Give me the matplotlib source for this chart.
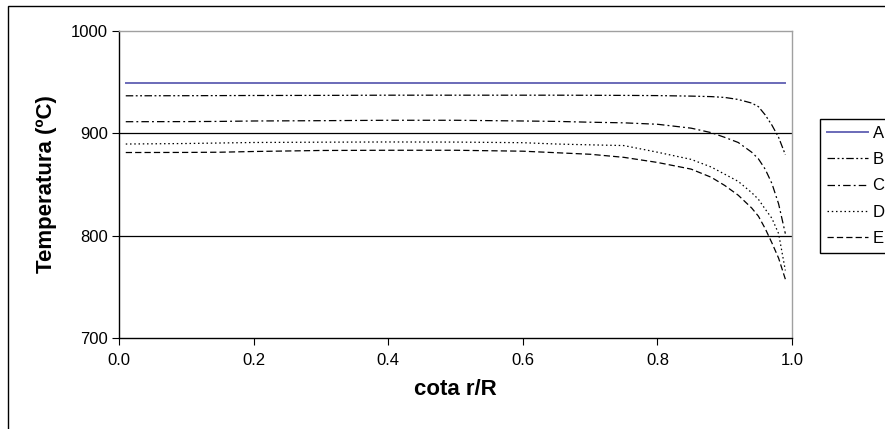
import matplotlib
matplotlib.use("Agg")
import matplotlib.pyplot as plt
from matplotlib.patches import Rectangle

# cota r/R
x = [0.01, 0.1, 0.15, 0.2, 0.3, 0.4, 0.5, 0.6, 0.65, 0.7, 0.75, 0.8, 0.85,
     0.88, 0.9, 0.92, 0.94, 0.95, 0.96, 0.97, 0.98, 0.99]

# temperatures (ºC)
serieA = [949.5] * len(x)
serieB = [936.6, 936.7, 936.8, 936.9, 937.0, 937.2, 937.2, 937.2, 937.2, 937.1, 937.0,
          936.8, 936.3, 935.8, 935.0, 933.0, 929.5, 926.0, 918.0, 908.0, 896.0, 879.0]
serieC = [911.3, 911.4, 911.6, 912.0, 912.3, 912.7, 912.7, 912.0, 911.6, 910.8, 910.2,
          908.8, 905.0, 900.6, 896.0, 891.0, 881.5, 875.0, 865.0, 851.0, 831.0, 802.0]
serieD = [889.5, 890.0, 890.5, 891.0, 891.3, 891.5, 891.4, 890.8, 889.5, 888.7, 888.0,
          881.5, 874.5, 867.0, 860.0, 853.0, 842.0, 835.5, 826.0, 817.0, 802.0, 766.0]
serieE = [881.2, 881.3, 881.5, 882.2, 883.2, 883.4, 883.4, 882.5, 881.0, 879.5, 876.5,
          871.5, 865.0, 857.0, 849.0, 839.5, 827.0, 819.0, 807.0, 793.0, 778.0, 757.5]

nombres = ["A", "B", "C", "D", "E"]

plt.rcParams['font.family'] = ['Liberation Sans', 'DejaVu Sans']

fig = plt.figure(figsize=(8.85, 4.29), dpi=100)
ax = fig.add_axes([0.1345, 0.212, 0.7605, 0.716])

# gridlines
for g in [800, 900]:
    ax.axhline(g, color="black", lw=0.9, zorder=1)

ax.plot(x, serieA, color="#6a6ab8", lw=1.4, label=nombres[0], zorder=3)
ax.plot(x, serieB, color="black", lw=0.9, dashes=[6, 2, 1.5, 2, 1.5, 2], label=nombres[1], zorder=3)
ax.plot(x, serieC, color="black", lw=0.9, dashes=[6, 2.5, 1.5, 2.5], label=nombres[2], zorder=3)
ax.plot(x, serieD, color="black", lw=0.9, dashes=[1.2, 2.2], label=nombres[3], zorder=3)
ax.plot(x, serieE, color="black", lw=0.9, dashes=[5, 2.5], label=nombres[4], zorder=3)

ax.set_xlim(0, 1.0)
ax.set_ylim(700, 1000)
ax.set_xticks([0.0, 0.2, 0.4, 0.6, 0.8, 1.0])
ax.set_xticklabels(["0.0", "0.2", "0.4", "0.6", "0.8", "1.0"])
ax.set_yticks([700, 800, 900, 1000])
ax.tick_params(axis="both", direction="out", length=5, width=0.8, labelsize=12, pad=3)
ax.tick_params(axis="x", pad=6)

ax.spines["left"].set_color("black")
ax.spines["bottom"].set_color("black")
ax.spines["top"].set_color("#a0a0a0")
ax.spines["right"].set_color("#a0a0a0")
for s in ax.spines.values():
    s.set_linewidth(1.0)

ax.set_xlabel("cota r/R", fontsize=16, fontweight="bold", labelpad=8)
ax.set_ylabel("Temperatura (ºC)", fontsize=16, fontweight="bold", labelpad=10)

leg = fig.legend(loc="upper left", bbox_to_anchor=(0.9266, 0.7226), fontsize=12,
                 handlelength=2.5, handletextpad=0.25, labelspacing=0.68,
                 borderpad=0.4, fancybox=False, framealpha=1, borderaxespad=0)
leg.get_frame().set_edgecolor("black")
leg.get_frame().set_linewidth(1.0)

# outer chart border (cropped on right and bottom)
fig.add_artist(Rectangle((8 / 885, -0.2), 1.2, 1 - 6 / 429 + 0.2,
                         transform=fig.transFigure, fill=False,
                         edgecolor="black", lw=1.0))

fig.savefig("out.png", dpi=100)
